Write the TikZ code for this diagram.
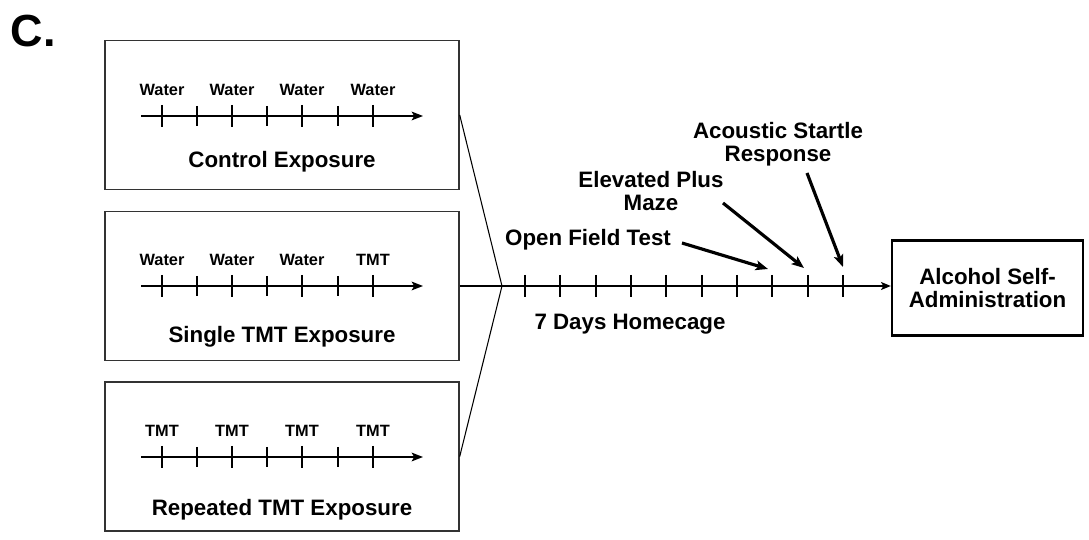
\documentclass[tikz,border=0pt]{standalone}
\usepackage{fontspec}
\setmainfont{Liberation Sans}
\usetikzlibrary{arrows.meta}
\newcommand{\mainfnt}{\fontsize{12.7}{13.3}\selectfont\bfseries}
\newcommand{\tinyfnt}{\fontsize{9.3}{11}\selectfont\bfseries}
\tikzset{
  expbox/.style={rectangle,draw=black!80,line width=0.85pt,minimum width=7.08cm,
    minimum height=2.98cm,inner sep=0pt},
  endbox/.style={rectangle,draw=black,line width=1.4pt,minimum width=3.82cm,
    minimum height=1.9cm,align=center,font=\mainfnt},
  lbl/.style={inner sep=0pt,align=center,font=\mainfnt},
  tinylbl/.style={inner sep=0pt,font=\tinyfnt},
  innerline/.style={line width=0.8pt,-{Stealth[length=6.5pt,width=5pt,inset=1.5pt]}},
  bigtick/.style={line width=1.7pt},
  smalltick/.style={line width=0.6pt},
  fan/.style={line width=0.6pt},
  mainline/.style={line width=0.8pt,-{Stealth[length=5.5pt,width=4.5pt,inset=1.2pt]}},
  daytick/.style={line width=1.1pt},
  testarrow/.style={line width=1.8pt,-{Stealth[length=7pt,width=5.5pt,inset=1.5pt]}},
}
\begin{document}
\begin{tikzpicture}[x=0.02cm,y=-0.02cm]
  \useasboundingbox (0,0) rectangle (1089,540);
  \node[inner sep=0pt,anchor=base west,font=\fontsize{25.6}{28}\selectfont\bfseries] (panel) at (10.5,47) {C.};
  % drei Expositionsgruppen
  \node[expbox] (ctrl) at (282,115) {};
  \node[expbox] (single) at (282,286) {};
  \node[expbox] (rep) at (282,456.5) {};
  \foreach \bx/\ly/\ty/\la/\lb/\lc/\ld/\ttl in {
      ctrl/116/168/Water/Water/Water/Water/Control Exposure,
      single/286/343/Water/Water/Water/TMT/Single TMT Exposure,
      rep/457/516/TMT/TMT/TMT/TMT/Repeated TMT Exposure} {
    \draw[innerline] (141,\ly) -- (423,\ly);
    \foreach \x/\lab [count=\k] in {162/\la,232/\lb,302/\lc,373/\ld} {
      \draw[bigtick] (\x,{\ly-11}) -- (\x,{\ly+11});
      \node[tinylbl,anchor=base] (\bx-l\k) at (\x,{\ly-20}) {\lab};
    }
    \foreach \x in {197,267,338}
      \draw[smalltick] (\x,{\ly-10}) -- (\x,{\ly+10});
    \node[lbl,anchor=base] (\bx-ttl) at (282,\ty) {\ttl};
  }
  % Zusammenfuehrung und Homecage-Zeitachse
  \node[endbox] (asa) at (987.5,288) {Alcohol Self-\\Administration};
  \coordinate (hub) at (502,286);
  \draw[fan] (ctrl.east) -- (hub);
  \draw[fan] (rep.east) -- (hub);
  \draw[mainline] (single.east) -- (single.east -| asa.west);
  \foreach \i in {0,...,9}
    \draw[daytick] ({525+35.33*\i},275) -- ({525+35.33*\i},297);
  \node[lbl,anchor=base] (home) at (630,330) {7 Days Homecage};
  % Verhaltenstests
  \node[lbl,anchor=base] (oft) at (588,246) {Open Field Test};
  \node[lbl] (epm) at (651,191) {Elevated Plus\\Maze};
  \node[lbl] (asr) at (778,144) {Acoustic Startle\\Response};
  \coordinate (oftS) at (682,243);
  \coordinate (oftE) at (768,269);
  \coordinate (epmS) at (723,203);
  \coordinate (epmE) at (804,268);
  \coordinate (asrS) at (807,173);
  \coordinate (asrE) at (843,267);
  \draw[testarrow] (oftS) -- (oftE);
  \draw[testarrow] (epmS) -- (epmE);
  \draw[testarrow] (asrS) -- (asrE);
\end{tikzpicture}
\end{document}
